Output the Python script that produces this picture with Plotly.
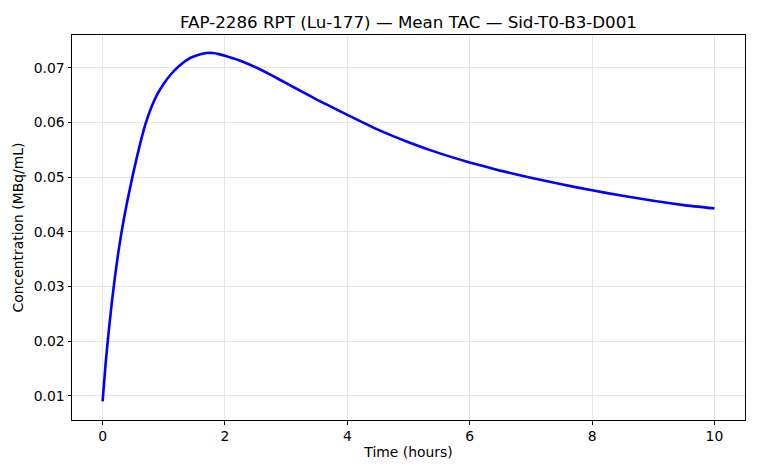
import plotly.graph_objects as go

time_hours = [0.0, 0.05, 0.1, 0.15, 0.2, 0.25, 0.3, 0.35, 0.4, 0.5, 0.6, 0.7, 0.8, 0.9,
              1.0, 1.1, 1.2, 1.3, 1.4, 1.5, 1.6, 1.7, 1.8, 1.9, 2.0, 2.25, 2.5,
              2.75, 3.0, 3.25, 3.5, 3.75, 4.0, 4.5, 5.0, 5.5, 6.0, 6.5, 7.0,
              7.5, 8.0, 8.5, 9.0, 9.5, 10.0]
concentration = [0.0090, 0.0160, 0.0218, 0.0270, 0.0316, 0.0357, 0.0393, 0.0425, 0.0454,
                 0.0507, 0.0555, 0.0597, 0.0629, 0.0653, 0.0671, 0.0686, 0.0698,
                 0.0708, 0.0716, 0.0721, 0.0725, 0.0727, 0.0727, 0.0725, 0.0722,
                 0.0713, 0.0701, 0.0687, 0.0672, 0.0657, 0.0642, 0.0628, 0.0614,
                 0.0587, 0.0564, 0.0544, 0.0527, 0.0512, 0.0499, 0.0487, 0.0476,
                 0.0466, 0.0457, 0.0449, 0.0443]

x_ticks = [0, 2, 4, 6, 8, 10]
y_ticks = [0.01, 0.02, 0.03, 0.04, 0.05, 0.06, 0.07]
y_tick_labels = ["0.01", "0.02", "0.03", "0.04", "0.05", "0.06", "0.07"]

FONT = "DejaVu Sans"

fig = go.Figure()
fig.add_trace(go.Scatter(
    x=time_hours, y=concentration, mode="lines",
    line=dict(color="#0000ff", width=2.6, shape="spline", smoothing=0.5),
    showlegend=False, hoverinfo="skip",
))

axis_common = dict(
    showline=True, linecolor="#000000", linewidth=1, mirror=True,
    ticks="outside", ticklen=3.5, tickwidth=1, tickcolor="#000000",
    showgrid=True, gridcolor="#e6e6e6", gridwidth=1, zeroline=False,
    tickfont=dict(family=FONT, size=13.9, color="#000000"),
)

fig.update_layout(
    width=760, height=475,
    paper_bgcolor="#ffffff", plot_bgcolor="#ffffff",
    margin=dict(l=72, r=15, t=35, b=55, autoexpand=False),
    font=dict(family=FONT, color="#000000"),
    title=dict(
        text="FAP-2286 RPT (Lu-177) — Mean TAC — Sid-T0-B3-D001",
        font=dict(family=FONT, size=16.7, color="#000000"),
        x=(72 + 745) / 2 / 760, xanchor="center",
        y=1 - 22.5 / 475, yanchor="middle", yref="container",
    ),
    xaxis=dict(
        range=[-0.5, 10.5], tickvals=x_ticks,
        title=dict(text="Time (hours)", font=dict(family=FONT, size=13.9), standoff=4),
        **axis_common,
    ),
    yaxis=dict(
        range=[0.00561, 0.0760], tickvals=y_ticks, ticktext=y_tick_labels,
        title=dict(text="Concentration (MBq/mL)", font=dict(family=FONT, size=13.9), standoff=6),
        **axis_common,
    ),
)

fig.write_html(
    "out.html",
    config={"displayModeBar": False},
    post_script="document.body.style.margin='0';document.body.style.overflow='hidden';",
)
